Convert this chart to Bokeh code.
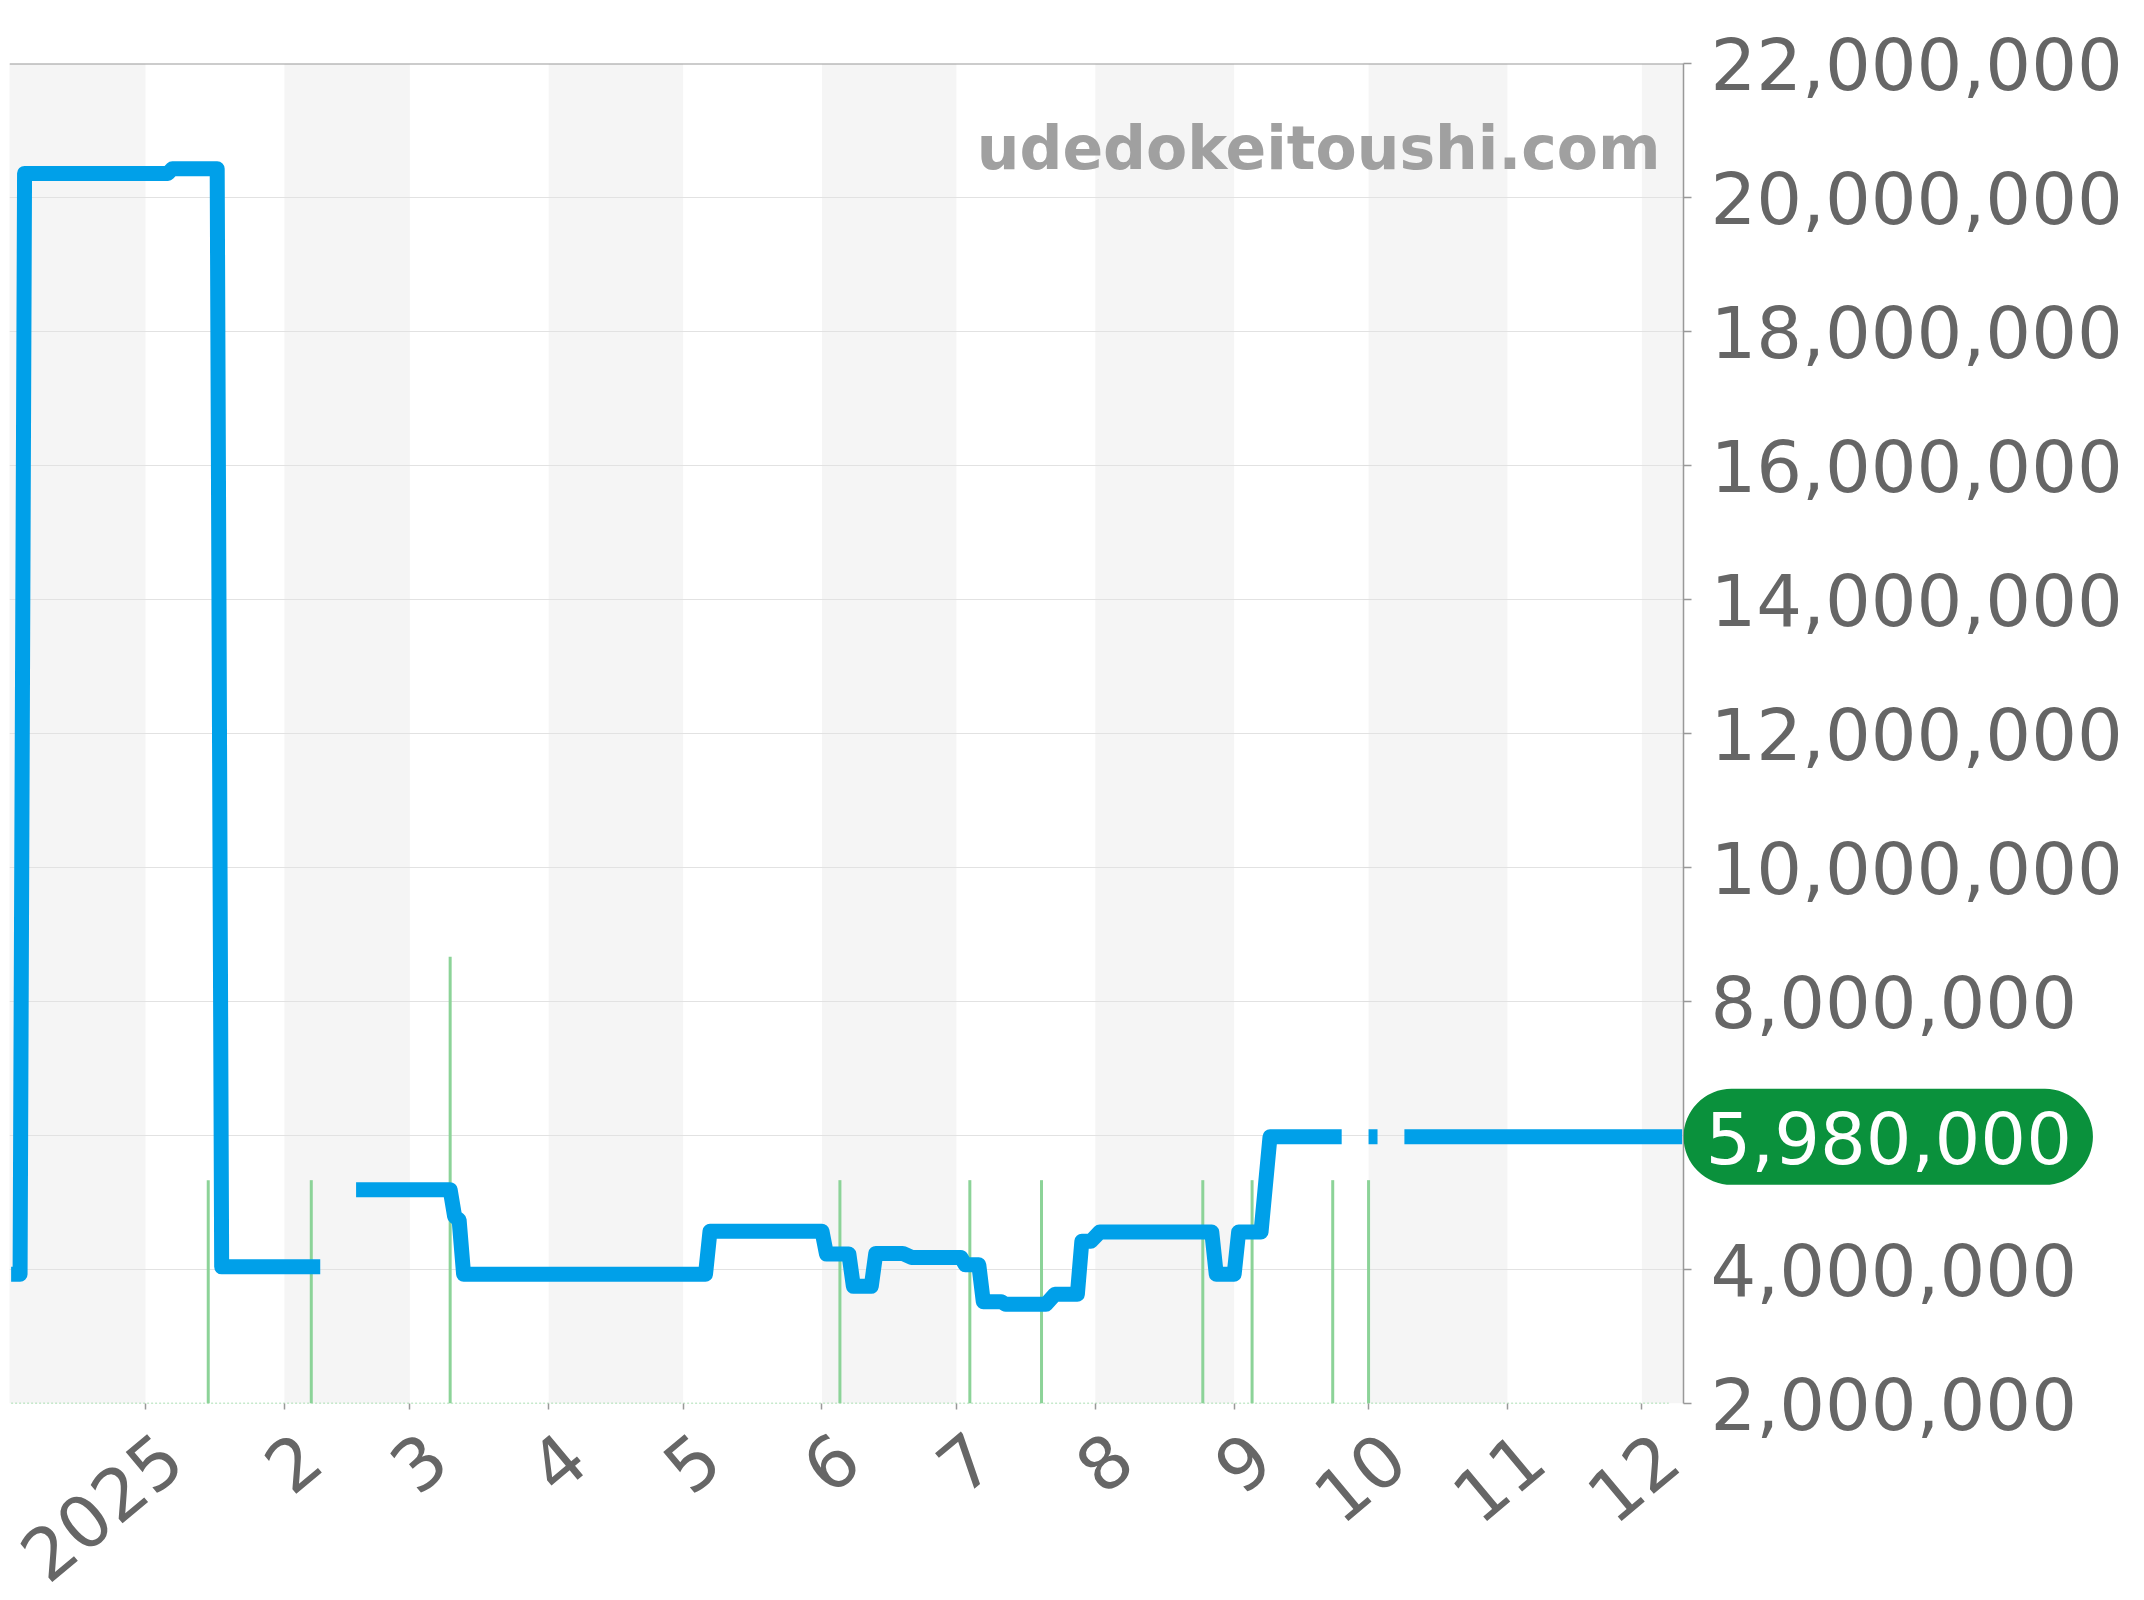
import math

import numpy as np
import pandas as pd
from bokeh.embed import file_html
from bokeh.layouts import row
from bokeh.models import (BoxAnnotation, ColumnDataSource, FixedTicker, Label,
                          NumeralTickFormatter, Range1d, Span)
from bokeh.plotting import figure
from bokeh.resources import INLINE

# price history (yen); NaN marks days without data
price_dates = [
    "2024-12-02", "2024-12-04", "2024-12-05", "2025-01-06", "2025-01-07",
    "2025-01-17", "2025-01-18", "2025-02-09", "2025-02-13", "2025-02-17",
    "2025-03-10", "2025-03-11", "2025-03-12", "2025-03-13", "2025-05-06",
    "2025-05-07", "2025-06-01", "2025-06-02", "2025-06-07", "2025-06-08",
    "2025-06-12", "2025-06-13", "2025-06-19", "2025-06-21", "2025-07-02",
    "2025-07-03", "2025-07-06", "2025-07-07", "2025-07-11", "2025-07-12",
    "2025-07-21", "2025-07-23", "2025-07-28", "2025-07-29", "2025-07-31",
    "2025-08-02", "2025-08-27", "2025-08-28", "2025-09-01", "2025-09-02",
    "2025-09-07", "2025-09-09", "2025-09-25", "2025-09-28", "2025-10-01",
    "2025-10-03", "2025-10-06", "2025-10-09", "2025-12-10",
]
price_values = [
    3930000, 3930000, 20360000, 20360000, 20430000,
    20430000, 4040000, 4040000, np.nan, 5190000,
    5190000, 4790000, 4740000, 3930000, 3930000,
    4570000, 4570000, 4230000, 4230000, 3750000,
    3750000, 4240000, 4240000, 4180000, 4180000,
    4070000, 4070000, 3520000, 3520000, 3480000,
    3480000, 3630000, 3630000, 4420000, 4420000,
    4560000, 4560000, 3930000, 3930000, 4560000,
    4560000, 5980000, 5980000, np.nan, 5980000,
    5980000, np.nan, 5980000, 5980000,
]

# listings per day (secondary scale)
count_dates = [
    "2025-01-15", "2025-02-07", "2025-03-10", "2025-06-05", "2025-07-04",
    "2025-07-20", "2025-08-25", "2025-09-05", "2025-09-23", "2025-10-01",
]
count_values = [1, 1, 2, 1, 1, 1, 1, 1, 1, 1]
count_span = ["2024-12-02", "2025-12-07"]

tick_dates = [
    "2025-01-01", "2025-02-01", "2025-03-01", "2025-04-01", "2025-05-01",
    "2025-06-01", "2025-07-01", "2025-08-01", "2025-09-01", "2025-10-01",
    "2025-11-01", "2025-12-01",
]
tick_labels = ["2025", "2", "3", "4", "5", "6", "7", "8", "9", "10", "11", "12"]

y_ticks = [2000000, 4000000, 6000000, 8000000, 10000000, 12000000,
           14000000, 16000000, 18000000, 20000000, 22000000]
last_price = 5980000


def ms(d):
    return pd.Timestamp(d).value / 1e6


x_start = pd.Timestamp("2024-12-01 15:20")
x_end = pd.Timestamp("2025-12-10 07:10")
FRAME_W, FRAME_H, TOP, LEFT, RIGHT = 1674, 1340, 63, 9, 440

p = figure(
    x_axis_type="datetime",
    y_axis_location="right",
    x_range=Range1d(x_start, x_end),
    y_range=Range1d(2000000, 22000000),
    frame_width=FRAME_W,
    frame_height=FRAME_H,
    min_border_left=LEFT,
    min_border_top=TOP,
    min_border_right=RIGHT,
    min_border_bottom=150,
    output_backend="svg",
    toolbar_location=None,
    background_fill_color="white",
    border_fill_color="white",
    outline_line_color=None,
)
p.extra_y_ranges = {"count": Range1d(0, 6)}

# alternating month bands
months = pd.date_range("2024-12-01", "2026-01-01", freq="MS")
for i in range(len(months) - 1):
    if i % 2 == 0:
        p.add_layout(BoxAnnotation(left=ms(months[i]), right=ms(months[i + 1]),
                                   fill_color="#f5f5f5", fill_alpha=1,
                                   line_color=None, level="image"))

p.xgrid.visible = False
p.ygrid.ticker = FixedTicker(ticks=y_ticks)
p.ygrid.grid_line_color = "#e2e2e2"
p.ygrid.grid_line_width = 1

p.add_layout(Span(location=22000000, dimension="width",
                  line_color="#999999", line_width=2))

# listing counts
p.line(x=pd.to_datetime(count_span), y=[0, 0], y_range_name="count",
       line_color="#8cd398", line_width=1.5, line_dash="2 2")
p.segment(x0=pd.to_datetime(count_dates), y0=[0] * len(count_values),
          x1=pd.to_datetime(count_dates), y1=count_values,
          y_range_name="count", line_color="#8cd398", line_width=3)

src = ColumnDataSource(data=dict(date=pd.to_datetime(price_dates),
                                 price=price_values))
p.line("date", "price", source=src, line_color="#00a0e9", line_width=15,
       line_join="round", line_cap="butt")

# y axis on the right
yax = p.yaxis[0]
yax.ticker = FixedTicker(ticks=y_ticks)
yax.formatter = NumeralTickFormatter(format="0,0")
yax.axis_line_color = "#999999"
yax.axis_line_width = 1.5
yax.major_tick_line_color = "#999999"
yax.major_tick_line_width = 1.5
yax.major_tick_out = 8
yax.major_tick_in = 0
yax.minor_tick_line_color = None
yax.major_label_text_font = "DejaVu Sans"
yax.major_label_text_font_size = "72px"
yax.major_label_text_color = "#666666"
yax.major_label_standoff = 19

# x axis: month ticks drawn as minor ticks, slanted labels nudged right
ms_per_px = (x_end - x_start).total_seconds() * 1000 / FRAME_W
nudge = 26 * ms_per_px
xax = p.xaxis[0]
xax.ticker = FixedTicker(ticks=[ms(d) + nudge for d in tick_dates],
                         minor_ticks=[ms(d) for d in tick_dates])
xax.major_label_overrides = {ms(d) + nudge: lab
                             for d, lab in zip(tick_dates, tick_labels)}
xax.axis_line_color = None
xax.major_tick_line_color = None
xax.major_tick_out = 6
xax.major_tick_in = 0
xax.minor_tick_line_color = "#999999"
xax.minor_tick_line_width = 1.5
xax.minor_tick_out = 6
xax.minor_tick_in = 0
xax.major_label_orientation = math.radians(40)
xax.major_label_text_font = "DejaVu Sans"
xax.major_label_text_font_size = "72px"
xax.major_label_text_color = "#666666"
xax.major_label_standoff = 38

# watermark
p.add_layout(Label(x=ms(x_end), y=22000000, text="udedokeitoushi.com",
                   text_align="right", text_baseline="alphabetic",
                   x_offset=-23, y_offset=-84,
                   text_font="DejaVu Sans", text_font_style="bold",
                   text_font_size="60px", text_color="#a0a0a0"))

# transparent strip laid over the axis area for the latest-price badge
badge = figure(
    x_range=Range1d(0, 430),
    y_range=p.y_range,
    frame_width=430,
    frame_height=FRAME_H,
    min_border_left=0,
    min_border_right=0,
    min_border_top=TOP,
    min_border_bottom=0,
    x_axis_location=None,
    y_axis_location=None,
    output_backend="svg",
    toolbar_location=None,
    background_fill_color=None,
    border_fill_color=None,
    outline_line_color=None,
)
badge.grid.visible = False
badge.add_layout(Label(x=0, y=last_price, text=f"{last_price:,}",
                       anchor="center_left",
                       text_align="left", text_baseline="middle",
                       text_font="DejaVu Sans", text_font_size="72px",
                       text_color="white",
                       background_fill_color="#0a913c",
                       background_fill_alpha=1,
                       border_radius=48,
                       padding=dict(left=22, right=21, top=22, bottom=21)))
badge.styles = {"position": "absolute", "left": f"{LEFT + FRAME_W}px",
                "top": "0px", "z-index": "10"}

layout = row(p, badge)
open("out.html", "w").write(file_html(layout, INLINE))
